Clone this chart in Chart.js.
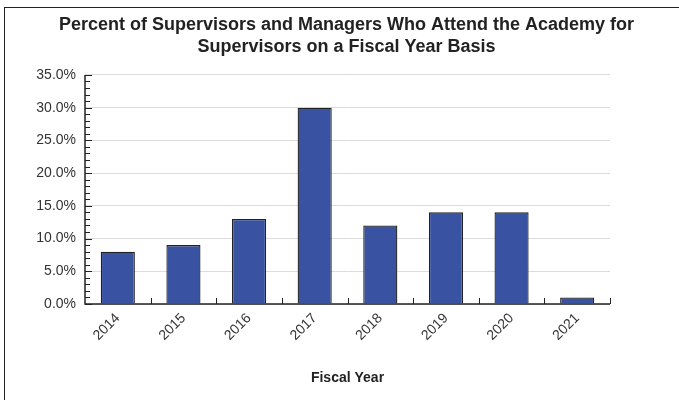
<!DOCTYPE html>
<html>
<head>
<meta charset="utf-8">
<script src="https://cdn.jsdelivr.net/npm/chart.js@4"></script>
<style>
  html, body { margin: 0; padding: 0; background: #fff; }
  #wrap { position: relative; width: 679px; height: 400px; }
  #frame { position: absolute; left: 4px; top: 7px; right: 0; bottom: 0;
           border-left: 1.5px solid #222; border-top: 1.5px solid #222; pointer-events: none; }
</style>
</head>
<body>
<div id="wrap">
  <canvas id="chart" width="679" height="400"></canvas>
  <div id="frame"></div>
</div>
<script>
const years = ['2014', '2015', '2016', '2017', '2018', '2019', '2020', '2021'];
const attendPct = [8, 9, 13, 30, 12, 14, 14, 1];
const yTicks = [0, 5, 10, 15, 20, 25, 30, 35];

// short inward tick marks on both axes
const axisTicks = {
    id: 'axisTicks',
    afterDatasetsDraw(chart) {
        const ctx = chart.ctx;
        const x = chart.scales.x;
        const y = chart.scales.y;
        ctx.save();
        ctx.strokeStyle = '#222';
        ctx.lineWidth = 1;
        ctx.beginPath();
        for (let v = 0; v <= 35; v++) {
            const py = Math.round(y.getPixelForValue(v)) + 0.5;
            const len = v % 5 === 0 ? 7 : 5;
            ctx.moveTo(x.left, py);
            ctx.lineTo(x.left + len, py);
        }
        for (let i = 1; i <= years.length; i++) {
            const px = Math.round(x.getPixelForValue(i - 0.5)) + 0.5;
            ctx.moveTo(px, y.bottom);
            ctx.lineTo(px, y.bottom - 6);
        }
        ctx.stroke();
        ctx.lineWidth = 1.5;
        ctx.beginPath();
        ctx.moveTo(x.left, y.top);
        ctx.lineTo(x.left, y.bottom);
        ctx.lineTo(x.right, y.bottom);
        ctx.stroke();
        ctx.restore();
    }
};

const ctx = document.getElementById('chart').getContext('2d');
const chart = new Chart(ctx, {
    type: 'bar',
    data: {
        labels: years,
        datasets: [{
            label: 'Percent',
            data: attendPct,
            backgroundColor: '#3a52a2',
            borderColor: '#222',
            borderWidth: 1.3,
            barPercentage: 0.52,
            categoryPercentage: 1
        }]
    },
    options: {
        responsive: false,
        animation: false,
        layout: { padding: { left: 14, right: 0, top: 0, bottom: 0 } },
        plugins: {
            legend: { display: false },
            tooltip: { enabled: false },
            title: {
                display: true,
                text: ['Percent of Supervisors and Managers Who Attend the Academy for',
                       'Supervisors on a Fiscal Year Basis'],
                color: '#222',
                font: { family: 'Liberation Sans', size: 18, weight: 'bold', lineHeight: 1.22 },
                padding: { top: 14, bottom: 17 }
            }
        },
        scales: {
            x: {
                grid: { display: false, drawTicks: false },
                border: { display: false },
                ticks: {
                    color: '#333',
                    font: { family: 'Liberation Sans', size: 14 },
                    minRotation: 45,
                    maxRotation: 45,
                    padding: 6
                },
                title: {
                    display: true,
                    text: 'Fiscal Year',
                    color: '#222',
                    font: { family: 'Liberation Sans', size: 14, weight: 'bold' },
                    padding: { top: 0, bottom: 13 }
                },
                afterFit(scale) { scale.height = 96; }
            },
            y: {
                min: 0,
                max: 35,
                afterBuildTicks(scale) { scale.ticks = yTicks.map(v => ({ value: v })); },
                grid: { color: '#dcdcdc', drawTicks: false, lineWidth: 1 },
                border: { display: false },
                ticks: {
                    color: '#333',
                    font: { family: 'Liberation Sans', size: 14 },
                    padding: 9,
                    callback: v => v.toFixed(1) + '%'
                },
                afterFit(scale) { scale.width = 71; }
            },
            // empty right-hand box so the plot stops short of the right edge
            yRight: {
                position: 'right',
                display: true,
                grid: { display: false, drawTicks: false },
                border: { display: false },
                ticks: { display: false },
                afterFit(scale) { scale.width = 69; }
            }
        }
    },
    plugins: [axisTicks]
});
</script>
</body>
</html>
